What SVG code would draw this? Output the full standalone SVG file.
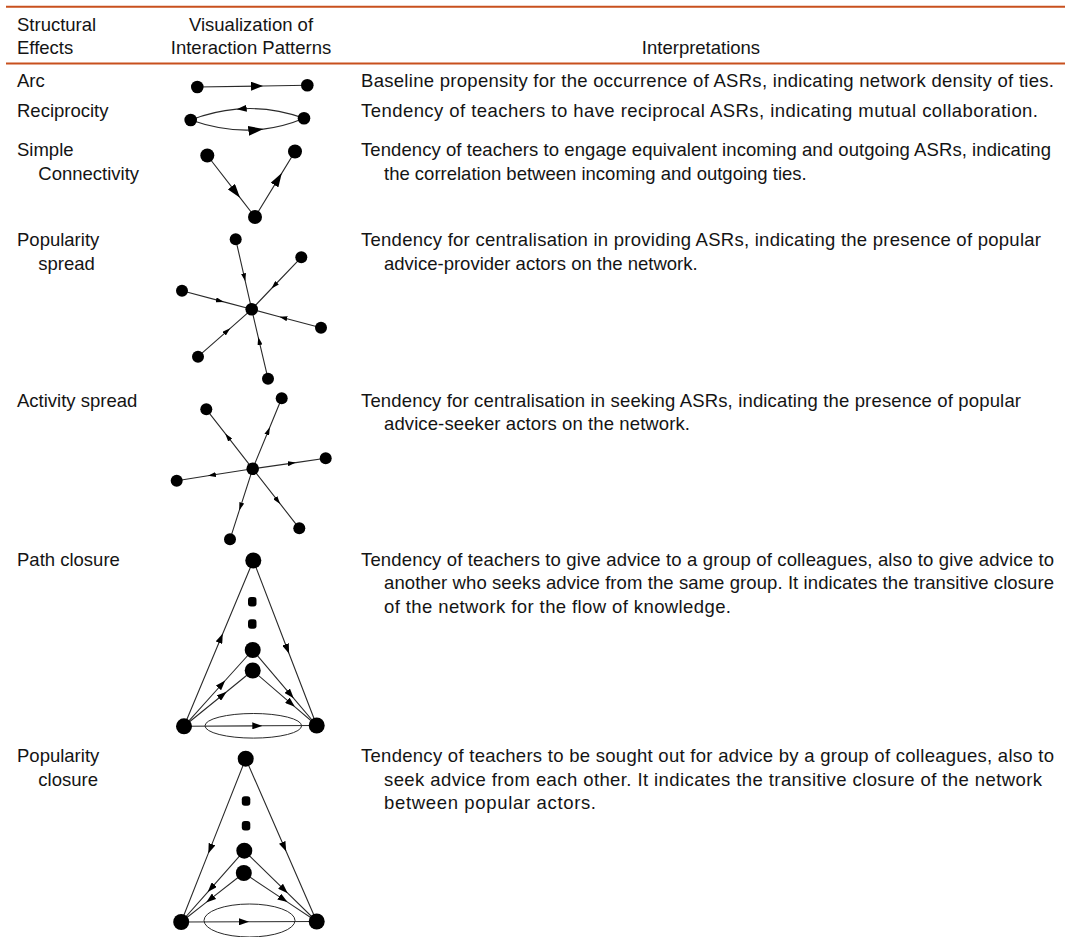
<svg xmlns="http://www.w3.org/2000/svg" width="1065" height="937" viewBox="0 0 1065 937">
<style>
text{font-family:"Liberation Sans",Arial,sans-serif;font-size:18.5px;fill:#141414}
.c{text-anchor:middle}
.rule{stroke:#c8501e;stroke-width:2}
.e{fill:none;stroke:#2a2a2a;stroke-width:1.1}
.n{fill:#000}
.ell{fill:none;stroke:#2a2a2a;stroke-width:1}
</style>
<defs>
<marker id="mA" viewBox="0 0 12 9" refX="12" refY="4.5" markerWidth="12" markerHeight="9" markerUnits="userSpaceOnUse" orient="auto"><path d="M0,0L12,4.5L0,9Z" fill="#000"/></marker>
<marker id="mRt" viewBox="0 0 10 7" refX="10" refY="3.5" markerWidth="10" markerHeight="7" markerUnits="userSpaceOnUse" orient="auto"><path d="M0,0L10,3.5L0,7Z" fill="#000"/></marker>
<marker id="mRb" viewBox="0 0 15 10" refX="15" refY="5" markerWidth="15" markerHeight="10" markerUnits="userSpaceOnUse" orient="auto"><path d="M0,0L15,5L0,10Z" fill="#000"/></marker>
<marker id="mS" viewBox="0 0 14 9" refX="14" refY="4.5" markerWidth="14" markerHeight="9" markerUnits="userSpaceOnUse" orient="auto"><path d="M0,0L14,4.5L0,9Z" fill="#000"/></marker>
<marker id="mSp" viewBox="0 0 8 5" refX="8" refY="2.5" markerWidth="8" markerHeight="5" markerUnits="userSpaceOnUse" orient="auto"><path d="M0,0L8,2.5L0,5Z" fill="#000"/></marker>
<marker id="mC" viewBox="0 0 10 7" refX="10" refY="3.5" markerWidth="10" markerHeight="7" markerUnits="userSpaceOnUse" orient="auto"><path d="M0,0L10,3.5L0,7Z" fill="#000"/></marker>
</defs>
<rect width="1065" height="937" fill="#fff"/>

<g id="header">
<line class="rule" x1="6" y1="6.7" x2="1065" y2="6.7"/>
<line class="rule" x1="6" y1="63.5" x2="1065" y2="63.5"/>
<text x="17" y="30.7">Structural</text>
<text x="17" y="54">Effects</text>
<text class="c" x="251" y="30.7">Visualization of</text>
<text class="c" x="251" y="54">Interaction Patterns</text>
<text class="c" x="701" y="54">Interpretations</text>
</g>

<g id="row-arc">
<text x="17" y="87">Arc</text>
<text x="361" y="87" textLength="693">Baseline propensity for the occurrence of ASRs, indicating network density of ties.</text>
<g id="arc-connectors"><path class="e" d="M197.3,87L263,86L307.3,85.3" marker-mid="url(#mA)"/></g>
<g id="arc-nodes"><circle class="n" cx="197.3" cy="87" r="6.3"/><circle class="n" cx="307.3" cy="85.3" r="6.3"/></g>
</g>

<g id="row-reciprocity">
<text x="17" y="117">Reciprocity</text>
<text x="361" y="117" textLength="677">Tendency of teachers to have reciprocal ASRs, indicating mutual collaboration.</text>
<g id="rec-connectors">
<path class="e" d="M304,118.3Q270.1,106.12 236.69,109.17Q213.42,111.2 190.7,120" marker-mid="url(#mRt)"/>
<path class="e" d="M190.7,120Q228.06,133.23 263.31,129.12Q284.02,126.7 304,118.3" marker-mid="url(#mRb)"/>
</g>
<g id="rec-nodes"><circle class="n" cx="190.7" cy="120" r="6.3"/><circle class="n" cx="304" cy="118.3" r="6.3"/></g>
</g>

<g id="row-simple-connectivity">
<text x="17" y="156">Simple</text>
<text x="38.3" y="179.5">Connectivity</text>
<text x="361" y="156" textLength="690">Tendency of teachers to engage equivalent incoming and outgoing ASRs, indicating</text>
<text x="384" y="179.5">the correlation between incoming and outgoing ties.</text>
<g id="sc-connectors">
<path class="e" d="M207.3,155.5L240,197.7L255,217" marker-mid="url(#mS)"/>
<path class="e" d="M255,217L281.8,173.1L295,151.5" marker-mid="url(#mS)"/>
</g>
<g id="sc-nodes"><circle class="n" cx="207.3" cy="155.5" r="7"/><circle class="n" cx="295" cy="151.5" r="7"/><circle class="n" cx="255" cy="217" r="7"/></g>
</g>

<g id="row-popularity-spread">
<text x="17" y="246">Popularity</text>
<text x="38.3" y="269.5">spread</text>
<text x="361" y="246" textLength="680">Tendency for centralisation in providing ASRs, indicating the presence of popular</text>
<text x="384" y="269.5">advice-provider actors on the network.</text>
<g id="ps-connectors">
<path class="e" d="M235.7,239.3L245.3,281.3L251.7,309.3" marker-mid="url(#mSp)"/>
<path class="e" d="M301.3,257.3L271.5,288.5L251.7,309.3" marker-mid="url(#mSp)"/>
<path class="e" d="M182,290.7L223.8,301.9L251.7,309.3" marker-mid="url(#mSp)"/>
<path class="e" d="M321,327.7L279.4,316.7L251.7,309.3" marker-mid="url(#mSp)"/>
<path class="e" d="M198,356.7L230.2,328.3L251.7,309.3" marker-mid="url(#mSp)"/>
<path class="e" d="M268,378.7L258.2,337.1L251.7,309.3" marker-mid="url(#mSp)"/>
</g>
<g id="ps-nodes">
<circle class="n" cx="251.7" cy="309.3" r="6.3"/>
<circle class="n" cx="235.7" cy="239.3" r="6"/>
<circle class="n" cx="301.3" cy="257.3" r="6"/>
<circle class="n" cx="182" cy="290.7" r="6"/>
<circle class="n" cx="321" cy="327.7" r="6"/>
<circle class="n" cx="198" cy="356.7" r="6"/>
<circle class="n" cx="268" cy="378.7" r="6"/>
</g>
</g>

<g id="row-activity-spread">
<text x="17" y="406.5">Activity spread</text>
<text x="361" y="406.5" textLength="660">Tendency for centralisation in seeking ASRs, indicating the presence of popular</text>
<text x="384" y="430" textLength="306">advice-seeker actors on the network.</text>
<g id="as-connectors">
<path class="e" d="M252.7,468.8L225.3,433.7L206.3,409.3" marker-mid="url(#mSp)"/>
<path class="e" d="M252.7,468.8L269.8,427.2L281.7,398.3" marker-mid="url(#mSp)"/>
<path class="e" d="M252.7,468.8L295.8,462.6L325.7,458.3" marker-mid="url(#mSp)"/>
<path class="e" d="M252.7,468.8L207.9,475.8L176.7,480.7" marker-mid="url(#mSp)"/>
<path class="e" d="M252.7,468.8L239.3,510.4L230,539.3" marker-mid="url(#mSp)"/>
<path class="e" d="M252.7,468.8L280.2,503.9L299.3,528.3" marker-mid="url(#mSp)"/>
</g>
<g id="as-nodes">
<circle class="n" cx="252.7" cy="468.8" r="6.3"/>
<circle class="n" cx="206.3" cy="409.3" r="6"/>
<circle class="n" cx="281.7" cy="398.3" r="6"/>
<circle class="n" cx="325.7" cy="458.3" r="6"/>
<circle class="n" cx="176.7" cy="480.7" r="6"/>
<circle class="n" cx="230" cy="539.3" r="6"/>
<circle class="n" cx="299.3" cy="528.3" r="6"/>
</g>
</g>

<g id="row-path-closure">
<text x="17" y="565.5">Path closure</text>
<text x="361" y="565.5" textLength="693">Tendency of teachers to give advice to a group of colleagues, also to give advice to</text>
<text x="384" y="589" textLength="670">another who seeks advice from the same group. It indicates the transitive closure</text>
<text x="384" y="612.5" textLength="347">of the network for the flow of knowledge.</text>
<g id="pc-connectors">
<ellipse class="ell" cx="253.3" cy="725.8" rx="48.3" ry="12.3"/>
<path class="e" d="M184,726.3L222.8,633.5L253.3,560.5" marker-mid="url(#mC)"/>
<path class="e" d="M253.3,560.5L289.1,653.7L316.7,725.5" marker-mid="url(#mC)"/>
<path class="e" d="M184,726.3L225.2,680.5L252.7,650" marker-mid="url(#mC)"/>
<path class="e" d="M184,726.3L226.6,691.7L252.7,670.5" marker-mid="url(#mC)"/>
<path class="e" d="M252.7,650L293.7,698.3L316.7,725.5" marker-mid="url(#mC)"/>
<path class="e" d="M252.7,670.5L294.9,706.8L316.7,725.5" marker-mid="url(#mC)"/>
<path class="e" d="M184,726.3L262.3,725.8L316.7,725.5" marker-mid="url(#mC)"/>
</g>
<g id="pc-nodes">
<circle class="n" cx="253.3" cy="560.5" r="8"/>
<rect class="n" x="248" y="597" width="8.5" height="9.5" rx="3"/>
<rect class="n" x="248" y="619.3" width="8.5" height="9.5" rx="3"/>
<circle class="n" cx="252.7" cy="650" r="8"/>
<circle class="n" cx="252.7" cy="670.5" r="8"/>
<circle class="n" cx="184" cy="726.3" r="8"/>
<circle class="n" cx="316.7" cy="725.5" r="8"/>
</g>
</g>

<g id="row-popularity-closure">
<text x="17" y="762">Popularity</text>
<text x="38.3" y="785.5">closure</text>
<text x="361" y="762" textLength="693">Tendency of teachers to be sought out for advice by a group of colleagues, also to</text>
<text x="384" y="785.5" textLength="658">seek advice from each other. It indicates the transitive closure of the network</text>
<text x="384" y="809" textLength="212">between popular actors.</text>
<g id="pcl-connectors">
<ellipse class="ell" cx="249.5" cy="920.5" rx="45.5" ry="16.5"/>
<path class="e" d="M245.7,758.7L208.3,853.4L181.2,922" marker-mid="url(#mC)"/>
<path class="e" d="M245.7,758.7L286.2,851.5L316.7,921.5" marker-mid="url(#mC)"/>
<path class="e" d="M244.3,850.7L207.7,892.1L181.2,922" marker-mid="url(#mC)"/>
<path class="e" d="M243.8,873L206.2,902.4L181.2,922" marker-mid="url(#mC)"/>
<path class="e" d="M244.3,850.7L287.7,893.2L316.7,921.5" marker-mid="url(#mC)"/>
<path class="e" d="M243.8,873L287.5,902.1L316.7,921.5" marker-mid="url(#mC)"/>
<path class="e" d="M181.2,922L249,921.75L316.7,921.5" marker-mid="url(#mC)"/>
</g>
<g id="pcl-nodes">
<circle class="n" cx="245.7" cy="758.7" r="8"/>
<rect class="n" x="241.8" y="796.3" width="8.5" height="9.5" rx="3"/>
<rect class="n" x="241.8" y="821" width="8.5" height="9.5" rx="3"/>
<circle class="n" cx="244.3" cy="850.7" r="8"/>
<circle class="n" cx="243.8" cy="873" r="8"/>
<circle class="n" cx="181.2" cy="922" r="8"/>
<circle class="n" cx="316.7" cy="921.5" r="8"/>
</g>
</g>
</svg>
